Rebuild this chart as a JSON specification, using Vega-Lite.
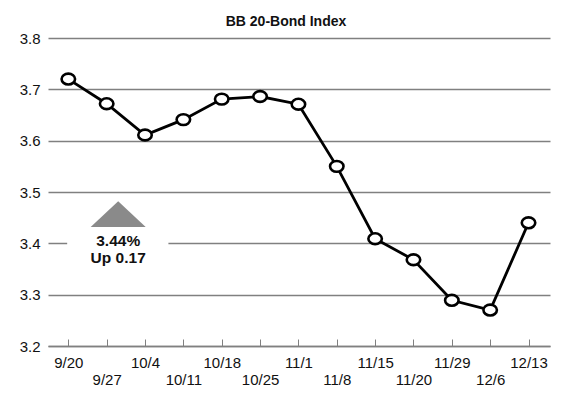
{
  "$schema": "https://vega.github.io/schema/vega-lite/v6.json",
  "width": 502,
  "height": 308,
  "autosize": "none",
  "padding": {"left": 48, "top": 38, "right": 20, "bottom": 49},
  "background": "white",
  "config": {"view": {"stroke": null}, "font": "Liberation Sans"},
  "title": {"text": "BB 20-Bond Index", "fontSize": 14, "fontWeight": "bold", "font": "Liberation Sans", "color": "#111111", "anchor": "middle", "dx": -13, "offset": -12, "baseline": "bottom"},
  "datasets": {
    "series": [
      {"date": "9/20", "i": 0, "value": 3.72},
      {"date": "9/27", "i": 1, "value": 3.672},
      {"date": "10/4", "i": 2, "value": 3.611},
      {"date": "10/11", "i": 3, "value": 3.641},
      {"date": "10/18", "i": 4, "value": 3.681},
      {"date": "10/25", "i": 5, "value": 3.686},
      {"date": "11/1", "i": 6, "value": 3.671},
      {"date": "11/8", "i": 7, "value": 3.55},
      {"date": "11/15", "i": 8, "value": 3.409},
      {"date": "11/20", "i": 9, "value": 3.368},
      {"date": "11/29", "i": 10, "value": 3.289},
      {"date": "12/6", "i": 11, "value": 3.27},
      {"date": "12/13", "i": 12, "value": 3.44}
    ],
    "mask": [{"i": -0.03, "i2": 2.61, "value": 3.38, "value2": 3.42}],
    "marker": [{"i": 1.3, "value": 3.457}],
    "note": [
      {"i": 1.3, "value": 3.395, "text": "3.44%"},
      {"i": 1.3, "value": 3.361, "text": "Up 0.17"}
    ]
  },
  "layer": [
    {
      "data": {"name": "mask"},
      "mark": {"type": "rect", "color": "white"},
      "encoding": {
        "x": {"field": "i", "type": "quantitative", "title": null},
        "x2": {"field": "i2"},
        "y": {"field": "value", "type": "quantitative", "title": null},
        "y2": {"field": "value2"}
      }
    },
    {
      "data": {"name": "series"},
      "mark": {"type": "line", "color": "black", "strokeWidth": 2.8},
      "encoding": {
        "x": {
          "field": "i", "type": "quantitative", "title": null,
          "scale": {"domain": [-0.53, 12.56], "nice": false, "zero": false},
          "axis": {
            "values": [0, 1, 2, 3, 4, 5, 6, 7, 8, 9, 10, 11, 12],
            "labelExpr": "['9/20','9/27','10/4','10/11','10/18','10/25','11/1','11/8','11/15','11/20','11/29','12/6','12/13'][datum.value]",
            "grid": false,
            "domain": true, "domainColor": "#808080", "domainWidth": 1.3,
            "ticks": true, "tickSize": -7, "tickColor": "#808080", "tickWidth": 1,
            "labelFontSize": 15, "labelColor": "#111111", "labelFont": "Liberation Sans",
            "labelBaseline": "top",
            "labelPadding": {"condition": {"test": "datum.value % 2 === 1", "value": 33}, "value": 16},
            "labelFlush": false, "labelOverlap": false, "title": null
          }
        },
        "y": {
          "field": "value", "type": "quantitative", "title": null,
          "scale": {"domain": [3.2, 3.8], "nice": false, "zero": false},
          "axis": {
            "values": [3.2, 3.3, 3.4, 3.5, 3.6, 3.7, 3.8],
            "format": ".1f",
            "grid": true, "gridColor": "#808080", "gridWidth": 1.3,
            "domain": false, "ticks": false,
            "labelPadding": 8, "labelFontSize": 15, "labelColor": "#111111", "labelFont": "Liberation Sans",
            "labelBaseline": "middle", "title": null
          }
        }
      }
    },
    {
      "data": {"name": "series"},
      "mark": {"type": "point", "shape": "M -1 0 A 1 0.8 0 1 0 1 0 A 1 0.8 0 1 0 -1 0 Z", "size": 182, "filled": true, "fill": "white", "stroke": "black", "strokeWidth": 2.6, "opacity": 1},
      "encoding": {
        "x": {"field": "i", "type": "quantitative", "title": null},
        "y": {"field": "value", "type": "quantitative", "title": null}
      }
    },
    {
      "data": {"name": "marker"},
      "mark": {"type": "point", "shape": "M -1 0.47 L 0 -0.47 L 1 0.47 Z", "size": 3025, "filled": true, "color": "#8a8a8a", "opacity": 1, "strokeWidth": 0},
      "encoding": {
        "x": {"field": "i", "type": "quantitative", "title": null},
        "y": {"field": "value", "type": "quantitative", "title": null}
      }
    },
    {
      "data": {"name": "note"},
      "mark": {"type": "text", "font": "Liberation Sans", "fontWeight": "bold", "fontSize": 15.5, "color": "#111111", "align": "center", "baseline": "alphabetic"},
      "encoding": {
        "x": {"field": "i", "type": "quantitative", "title": null},
        "y": {"field": "value", "type": "quantitative", "title": null},
        "text": {"field": "text"}
      }
    }
  ]
}
